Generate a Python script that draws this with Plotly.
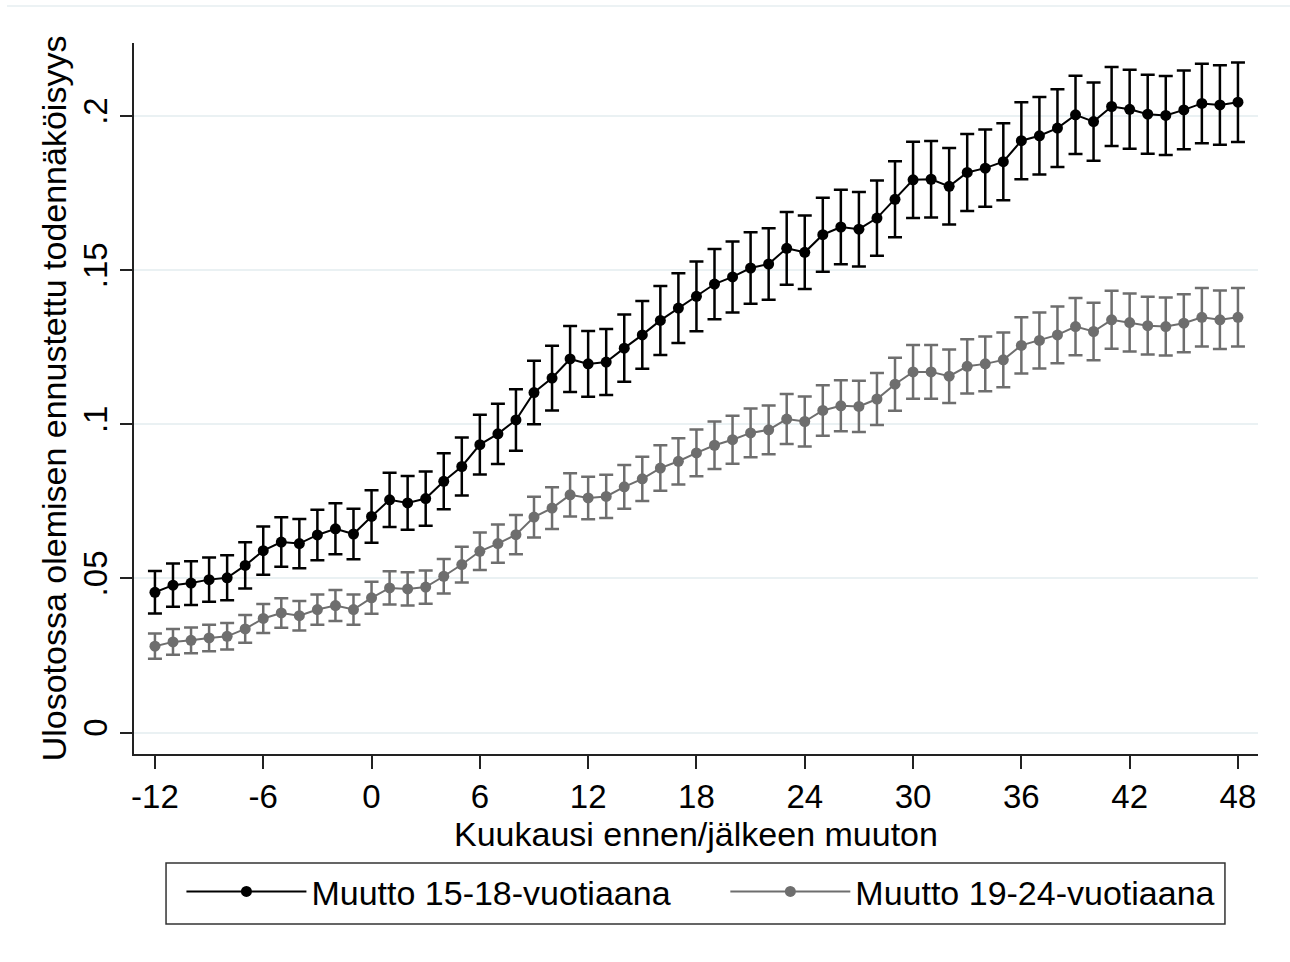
import plotly.graph_objects as go

months = list(range(-12, 49))

# Muutto 15-18-vuotiaana (black)
p_young = [0.0455, 0.0478, 0.0485, 0.0496, 0.0502, 0.0542, 0.0590, 0.0618, 0.0613, 0.0641, 0.0661, 0.0644,
           0.0701, 0.0755, 0.0745, 0.0759, 0.0815, 0.0863, 0.0934, 0.0969, 0.1014, 0.1103, 0.1150, 0.1212,
           0.1196, 0.1202, 0.1247, 0.1290, 0.1337, 0.1377, 0.1415, 0.1455, 0.1478, 0.1507, 0.1520, 0.1571,
           0.1558, 0.1615, 0.1640, 0.1633, 0.1669, 0.1730, 0.1793, 0.1795, 0.1772, 0.1817, 0.1831, 0.1852,
           0.1920, 0.1936, 0.1961, 0.2004, 0.1982, 0.2031, 0.2022, 0.2006, 0.2002, 0.2020, 0.2041, 0.2036, 0.2045]
ci_young = [0.0069, 0.0070, 0.0071, 0.0072, 0.0073, 0.0075, 0.0078, 0.0080, 0.0080, 0.0082, 0.0083, 0.0082,
            0.0085, 0.0088, 0.0087, 0.0088, 0.0091, 0.0094, 0.0097, 0.0098, 0.0100, 0.0103, 0.0105, 0.0107,
            0.0107, 0.0107, 0.0109, 0.0110, 0.0112, 0.0113, 0.0113, 0.0114, 0.0115, 0.0116, 0.0116, 0.0118,
            0.0119, 0.0120, 0.0121, 0.0121, 0.0122, 0.0123, 0.0124, 0.0124, 0.0124, 0.0125, 0.0125, 0.0125,
            0.0125, 0.0126, 0.0126, 0.0127, 0.0127, 0.0128, 0.0128, 0.0128, 0.0128, 0.0128, 0.0129, 0.0129, 0.0129]

# Muutto 19-24-vuotiaana (grey)
p_old = [0.0280, 0.0294, 0.0299, 0.0307, 0.0312, 0.0336, 0.0370, 0.0388, 0.0379, 0.0399, 0.0412, 0.0399,
         0.0437, 0.0469, 0.0466, 0.0472, 0.0507, 0.0545, 0.0588, 0.0613, 0.0642, 0.0699, 0.0728, 0.0771,
         0.0761, 0.0766, 0.0797, 0.0823, 0.0858, 0.0880, 0.0907, 0.0932, 0.0950, 0.0972, 0.0982, 0.1017,
         0.1009, 0.1045, 0.1060, 0.1058, 0.1082, 0.1130, 0.1170, 0.1170, 0.1156, 0.1188, 0.1196, 0.1209,
         0.1256, 0.1272, 0.1290, 0.1317, 0.1301, 0.1339, 0.1330, 0.1320, 0.1317, 0.1328, 0.1347, 0.1339, 0.1347]
ci_old = [0.0041, 0.0042, 0.0042, 0.0043, 0.0043, 0.0045, 0.0047, 0.0048, 0.0048, 0.0049, 0.0050, 0.0049,
          0.0052, 0.0054, 0.0054, 0.0054, 0.0056, 0.0058, 0.0061, 0.0062, 0.0064, 0.0066, 0.0068, 0.0070,
          0.0069, 0.0070, 0.0071, 0.0072, 0.0074, 0.0075, 0.0076, 0.0077, 0.0078, 0.0079, 0.0079, 0.0081,
          0.0081, 0.0082, 0.0083, 0.0083, 0.0084, 0.0086, 0.0087, 0.0087, 0.0087, 0.0088, 0.0089, 0.0089,
          0.0091, 0.0091, 0.0092, 0.0093, 0.0093, 0.0094, 0.0094, 0.0094, 0.0094, 0.0094, 0.0095, 0.0095, 0.0095]

x_ticks = [-12, -6, 0, 6, 12, 18, 24, 30, 36, 42, 48]
x_tick_text = ["-12", "-6", "0", "6", "12", "18", "24", "30", "36", "42", "48"]
y_ticks = [0, 0.05, 0.1, 0.15, 0.2]
y_tick_text = ["0", ".05", ".1", ".15", ".2"]

series_names = ["Muutto 15-18-vuotiaana", "Muutto 19-24-vuotiaana"]
colors = ["#000000", "#6e6e6e"]
x_title = "Kuukausi ennen/jälkeen muuton"
y_title = "Ulosotossa olemisen ennustettu todennäköisyys"

FONT = "Liberation Sans, Arial, sans-serif"

fig = go.Figure()
for name, vals, ci, col, lg in [(series_names[0], p_young, ci_young, colors[0], "legend"),
                                (series_names[1], p_old, ci_old, colors[1], "legend2")]:
    fig.add_trace(go.Scatter(
        x=months, y=vals, name=name, mode="lines+markers", legend=lg,
        line=dict(color=col, width=2),
        marker=dict(color=col, size=11, symbol="circle"),
        error_y=dict(type="data", array=ci, visible=True, color=col, thickness=2.5, width=7),
    ))

legend_common = dict(orientation="h", y=-0.153, xanchor="left", yanchor="top",
                     borderwidth=0, font=dict(size=34, family=FONT),
                     itemwidth=120, bgcolor="rgba(0,0,0,0)")

fig.update_layout(
    width=1290, height=962,
    margin=dict(l=134, r=32, t=43, b=208),
    paper_bgcolor="white", plot_bgcolor="white",
    font=dict(family=FONT, size=33, color="black"),
    showlegend=True,
    legend=dict(x=0.0422, **legend_common),
    legend2=dict(x=0.5261, **legend_common),
)
fig.update_xaxes(
    range=[-13.16, 49.11], tickmode="array", tickvals=x_ticks, ticktext=x_tick_text,
    showline=True, linecolor="#222222", linewidth=1.5,
    ticks="outside", ticklen=13, tickwidth=1.5, tickcolor="#222222",
    showgrid=False, zeroline=False, automargin=False,
    tickfont=dict(size=33), ticklabelstandoff=0,
)
fig.update_yaxes(
    range=[-0.00697, 0.2237], tickmode="array", tickvals=y_ticks, ticktext=y_tick_text,
    tickangle=-90,
    showline=True, linecolor="#222222", linewidth=1.5,
    ticks="outside", ticklen=12, tickwidth=1.5, tickcolor="#222222",
    showgrid=True, gridcolor="#eaf1f3", gridwidth=2, zeroline=False, automargin=False,
    tickfont=dict(size=33), ticklabelstandoff=0,
    title=dict(text=y_title, font=dict(size=34), standoff=0),
)
# x-axis title placed right under the tick labels
fig.add_annotation(text=x_title, xref="paper", yref="paper", x=0.5, y=-0.1125,
                   xanchor="center", yanchor="middle", showarrow=False, font=dict(size=34))
# legend frame enclosing both legend entries
fig.add_shape(type="rect", xref="paper", yref="paper", x0=0.0285, x1=0.9706, y0=-0.2391, y1=-0.1533,
              line=dict(color="#333333", width=1.5), fillcolor="rgba(0,0,0,0)")
# thin outer graph-region border at the top
fig.add_shape(type="line", xref="paper", yref="paper", x0=-0.113, x1=1.03, y0=1.052, y1=1.052,
              line=dict(color="#e6eef0", width=1.5))

fig.write_html("out.html", config={"displayModeBar": False},
               post_script="document.body.style.margin='0px';")
